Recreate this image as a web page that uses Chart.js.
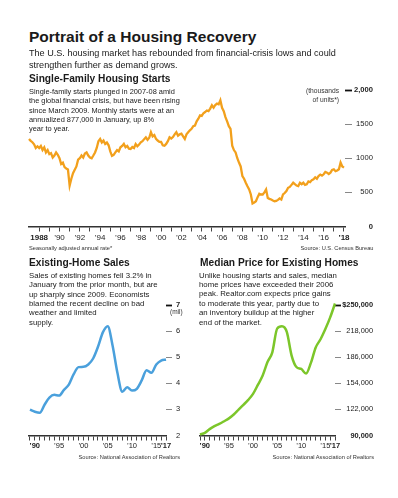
<!DOCTYPE html>
<html>
<head>
<meta charset="utf-8">
<script src="https://cdn.jsdelivr.net/npm/chart.js@4"></script>
<style>
body { margin: 0; background: #fff; }
#page { position: relative; width: 398px; height: 498px; overflow: hidden; font-family: "Liberation Sans", Arial, sans-serif; color: #1a1a1a; }
.t { position: absolute; white-space: nowrap; z-index: 2; }
canvas { position: absolute; z-index: 1; }
</style>
</head>
<body>
<div id="page">
  <div class="t" style="left:29px;top:28px;font-size:15.5px;line-height:18px;font-weight:bold">Portrait of a Housing Recovery</div>
  <div class="t" style="left:29px;top:46.8px;font-size:9.1px;line-height:12px">The U.S. housing market has rebounded from financial-crisis lows and could<br>strengthen further as demand grows.</div>

  <div class="t" style="left:29px;top:73px;font-size:10.2px;line-height:12px;font-weight:bold">Single-Family Housing Starts</div>
  <div class="t" style="left:29px;top:87.1px;font-size:7.4px;line-height:9.2px">Single-family starts plunged in 2007-08 amid<br>the global financial crisis, but have been rising<br>since March 2009. Monthly starts were at an<br>annualized 877,000 in January, up 8%<br>year to year.</div>
  <div class="t" style="right:59px;top:85.5px;font-size:6.7px;line-height:9px;text-align:right;color:#333">(thousands<br>of units*)</div>
  <div class="t" style="left:29px;top:244.5px;font-size:5.7px;line-height:7px;color:#333">Seasonally adjusted annual rate*</div>
  <div class="t" style="right:24.5px;top:245px;font-size:5.7px;line-height:7px;color:#333">Source: U.S. Census Bureau</div>

  <div class="t" style="left:29px;top:257px;font-size:10.2px;line-height:12px;font-weight:bold">Existing-Home Sales</div>
  <div class="t" style="left:29px;top:270.8px;font-size:7.8px;line-height:9.4px">Sales of existing homes fell 3.2% in<br>January from the prior month, but are<br>up sharply since 2009. Economists<br>blamed the recent decline on bad<br>weather and limited<br>supply.</div>
  <div class="t" style="left:170px;top:307.7px;font-size:6.5px;line-height:8px;color:#333">(mil)</div>
  <div class="t" style="right:218px;top:453.5px;font-size:5.7px;line-height:7px;color:#333">Source: National Association of Realtors</div>

  <div class="t" style="left:200px;top:257px;font-size:10.2px;line-height:12px;font-weight:bold">Median Price for Existing Homes</div>
  <div class="t" style="left:199px;top:270.6px;font-size:7.8px;line-height:9.4px">Unlike housing starts and sales, median<br>home prices have exceeded their 2006<br>peak. Realtor.com expects price gains<br>to moderate this year, partly due to<br>an inventory buildup at the higher<br>end of the market.</div>
  <div class="t" style="right:24px;top:453.5px;font-size:5.7px;line-height:7px;color:#333">Source: National Association of Realtors</div>

  <canvas id="starts" width="398" height="170" style="left:0;top:80px"></canvas>
  <canvas id="sales" width="200" height="175" style="left:0;top:290px"></canvas>
  <canvas id="price" width="208" height="175" style="left:190px;top:290px"></canvas>
</div>

<script>
// single-family starts, every two months, thousands (annual rate), Jan 1987 to Jan 2018
const startFirstYear = 1987
const startPerYear = 6
const startValues = [
  1283, 1255, 1235, 1205, 1150, 1175,
  1150, 1180, 1120, 1160, 1085, 1120,
  1060, 1075, 1010, 1040, 1085, 1050,
  1000, 915, 935, 870, 850, 835,
  600, 700, 780, 830, 880, 980,
  1000, 1040, 1011, 1070, 1085, 1040,
  1010, 1000, 1040, 1085, 1150, 1250,
  1283, 1230, 1258, 1210, 1230, 1190,
  1100, 1036, 1050, 1085, 1120, 1100,
  1160, 1180, 1210, 1160, 1180, 1140,
  1135, 1165, 1150, 1209, 1175, 1200,
  1233, 1250, 1280, 1307, 1270, 1300,
  1381, 1320, 1340, 1283, 1260, 1240,
  1240, 1190, 1184, 1210, 1250, 1307,
  1290, 1310, 1350, 1381, 1330, 1350,
  1360, 1320, 1283, 1350, 1381, 1410,
  1431, 1470, 1480, 1540, 1579, 1628,
  1620, 1660, 1677, 1700, 1690, 1727,
  1776, 1740, 1780, 1801, 1790, 1850,
  1740, 1690, 1603, 1540, 1470, 1431,
  1184, 1120, 1085, 1000, 937, 880,
  740, 700, 641, 590, 543, 470,
  336, 350, 370, 430, 479, 469,
  469, 500, 543, 419, 405, 395,
  380, 370, 375, 390, 410, 395,
  469, 490, 520, 567, 580, 610,
  641, 620, 600, 592, 640, 620,
  641, 610, 617, 660, 650, 680,
  691, 720, 700, 740, 760, 745,
  765, 800, 789, 770, 789, 830,
  839, 810, 820, 839, 937, 880,
  863
]
const startTickYears = [1988, 1989, 1990, 1991, 1992, 1993, 1994, 1995, 1996, 1997, 1998, 1999, 2000, 2001, 2002, 2003,
  2004, 2005, 2006, 2007, 2008, 2009, 2010, 2011, 2012, 2013, 2014, 2015, 2016, 2017, 2018]
const startLabelYears = [1988, 1990, 1992, 1994, 1996, 1998, 2000, 2002, 2004, 2006, 2008, 2010, 2012, 2014, 2016, 2018]
const startLabelText = ['1988', '\u201990', '\u201992', '\u201994', '\u201996', '\u201998', '\u201900', '\u201902',
  '\u201904', '\u201906', '\u201908', '\u201910', '\u201912', '\u201914', '\u201916', '\u201918']
const startYTicks = [0, 500, 1000, 1500, 2000]
const startYLabels = ['0', '500', '1000', '1500', '2,000']

// existing-home sales, millions; median price, dollars
const years = [1989, 1990, 1991, 1992, 1993, 1994, 1995, 1996, 1997, 1998, 1999, 2000, 2001, 2002, 2003,
  2004, 2005, 2006, 2007, 2008, 2009, 2010, 2011, 2012, 2013, 2014, 2015, 2016, 2017]
const salesValues = [2.99, 2.91, 2.87, 3.18, 3.45, 3.56, 3.53, 3.75, 3.95, 4.35, 4.62, 4.63, 4.72, 4.95, 5.40,
  5.95, 6.19, 5.45, 4.40, 3.68, 3.85, 3.72, 3.79, 4.11, 4.50, 4.40, 4.72, 4.87, 4.91]
const priceValues = [91300, 93200, 97800, 101400, 104200, 107500, 111000, 115700, 121600, 127600, 133600, 141000,
  152000, 163500, 180000, 192000, 221000, 223800, 217000, 188000, 174000, 171600, 166000, 179000, 198000,
  208000, 220500, 234800, 251800]
const smallLabelYears = [1990, 1995, 2000, 2005, 2010, 2015, 2017]
const smallLabelText = ['\u201990', '\u201995', '\u201900', '\u201905', '\u201910', '\u201915', '\u201917']
const salesYTicks = [2, 3, 4, 5, 6, 7]
const salesYLabels = ['2', '3', '4', '5', '6', '7']
const priceYTicks = [90000, 122000, 154000, 186000, 218000, 250000]
const priceYLabels = ['90,000', '122,000', '154,000', '186,000', '218,000', '$250,000']

const FONT = '"Liberation Sans", Arial, sans-serif'

function xAxis(min, max, tickYears, labelYears, labelText, size, pad) {
  return {
    type: 'linear', min: min, max: max,
    afterBuildTicks: s => { s.ticks = tickYears.map(v => ({ value: v })) },
    afterFit: s => { s.height = 20 },
    grid: { drawOnChartArea: false, tickLength: 5, tickColor: '#444', tickWidth: 1 },
    border: { display: true, color: '#333', width: 1.5 },
    ticks: {
      autoSkip: false, maxRotation: 0, padding: pad, color: '#222',
      font: ctx => {
        const v = ctx.tick ? ctx.tick.value : 0
        const bold = v === labelYears[0] || v === labelYears[labelYears.length - 1]
        return { family: FONT, size: size, weight: bold ? 'bold' : 'normal' }
      },
      callback: v => {
        const i = labelYears.indexOf(v)
        return i < 0 ? '' : labelText[i]
      }
    }
  }
}

function yAxis(min, max, tickVals, tickText, width, tl, pad, align, size) {
  const top = tickVals[tickVals.length - 1]
  const isBold = v => v === top || (align === 'far' && v === tickVals[0])
  return {
    type: 'linear', position: 'right', min: min, max: max,
    afterBuildTicks: s => { s.ticks = tickVals.map(v => ({ value: v })) },
    afterFit: s => { s.width = width },
    border: { display: false },
    grid: {
      drawOnChartArea: false, tickLength: tl,
      tickColor: ctx => ctx.tick.value === tickVals[0] ? 'rgba(0,0,0,0)' : (ctx.tick.value === top ? '#111' : '#888'),
      tickWidth: ctx => ctx.tick.value === top ? 1.8 : 1
    },
    ticks: {
      padding: pad, crossAlign: align, color: '#222',
      font: ctx => ({ family: FONT, size: size, weight: ctx.tick && isBold(ctx.tick.value) ? 'bold' : 'normal' }),
      callback: v => {
        const i = tickVals.indexOf(v)
        return i < 0 ? '' : tickText[i]
      }
    }
  }
}

const base = {
  responsive: false,
  animation: false,
  plugins: { legend: { display: false }, tooltip: { enabled: false } },
  elements: { point: { radius: 0 } }
}

new Chart('starts', {
  type: 'line',
  data: {
    datasets: [{
      data: startValues.map((v, i) => ({ x: startFirstYear + i / startPerYear, y: v })),
      borderColor: '#f2a01c', borderWidth: 2.3, tension: 0, clip: false
    }]
  },
  options: Object.assign({}, base, {
    layout: { padding: { left: 29, top: 10, right: 25, bottom: 3.5 } },
    scales: {
      x: xAxis(1987, 2018.1, startTickYears, startLabelYears, startLabelText, 8, 1.5),
      y: yAxis(0, 2000, startYTicks, startYLabels, 28, 7, 2, 'far', 7.6)
    }
  })
})

new Chart('sales', {
  type: 'line',
  data: {
    datasets: [{
      data: years.map((y, i) => ({ x: y, y: salesValues[i] })),
      borderColor: '#4aa0dc', borderWidth: 2.5, cubicInterpolationMode: 'monotone', clip: false
    }]
  },
  options: Object.assign({}, base, {
    layout: { padding: { left: 29, top: 15, right: 0, bottom: 9.5 } },
    scales: {
      x: xAxis(1988.8, 2017, years, smallLabelYears, smallLabelText, 7.5, 0.5),
      y: yAxis(2, 7, salesYTicks, salesYLabels, 34, 6, 4, 'near', 7.5)
    }
  })
})

new Chart('price', {
  type: 'line',
  data: {
    datasets: [{
      data: years.map((y, i) => ({ x: y, y: priceValues[i] })),
      borderColor: '#7cc62a', borderWidth: 2.5, cubicInterpolationMode: 'monotone', clip: false
    }]
  },
  options: Object.assign({}, base, {
    layout: { padding: { left: 10, top: 15, right: 25, bottom: 9.5 } },
    scales: {
      x: xAxis(1989, 2017, years, smallLabelYears, smallLabelText, 7.5, 0.5),
      y: yAxis(90000, 250000, priceYTicks, priceYLabels, 38, 6, 1, 'far', 7.4)
    }
  })
})
</script>
</body>
</html>
